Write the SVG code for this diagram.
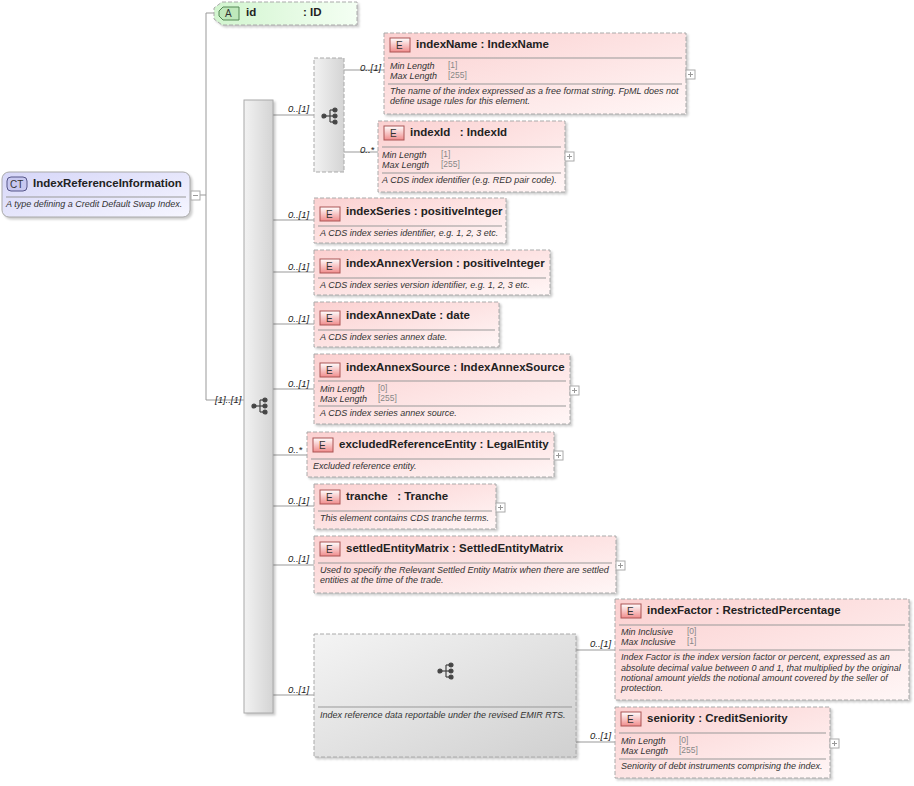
<svg xmlns="http://www.w3.org/2000/svg" width="914" height="786" viewBox="0 0 914 786">
<defs>
<linearGradient id="gE" x1="0" y1="0" x2="1" y2="1"><stop offset="0" stop-color="#fbd0d0"/><stop offset="1" stop-color="#fff6f6"/></linearGradient>
<linearGradient id="gA" x1="0" y1="0" x2="1" y2="0"><stop offset="0" stop-color="#d2f5cf"/><stop offset="1" stop-color="#f4fff3"/></linearGradient>
<linearGradient id="gCT" x1="0" y1="0" x2="1" y2="1"><stop offset="0" stop-color="#d6d6f8"/><stop offset="1" stop-color="#f6f6ff"/></linearGradient>
<linearGradient id="gS" x1="0" y1="0" x2="1" y2="0"><stop offset="0" stop-color="#f2f2f2"/><stop offset="1" stop-color="#d4d4d4"/></linearGradient>
<linearGradient id="gG" x1="0" y1="0" x2="1" y2="1"><stop offset="0" stop-color="#f4f4f4"/><stop offset="1" stop-color="#d0d0d0"/></linearGradient>
<linearGradient id="gB" x1="0" y1="0" x2="0" y2="1"><stop offset="0" stop-color="#fff"/><stop offset="1" stop-color="#f08c8c"/></linearGradient>
<g id="seqIcon" fill="#444" stroke="#444" stroke-width="1.2">
<circle cx="-6" cy="0" r="2"/><line x1="-6" y1="0" x2="0" y2="0"/><line x1="0" y1="-6" x2="0" y2="6"/><line x1="0" y1="-6" x2="5" y2="-6"/><line x1="0" y1="0" x2="5" y2="0"/><line x1="0" y1="6" x2="5" y2="6"/><circle cx="5" cy="-6" r="2"/><circle cx="5" cy="0" r="2"/><circle cx="5" cy="6" r="2"/>
</g>
<g id="plus"><rect x="0" y="0" width="9" height="9" fill="#fff" stroke="#aaa"/><path d="M2 4.5H7M4.5 2V7" stroke="#999"/></g>
</defs>
<style>
text{font-family:"Liberation Sans",Arial,sans-serif}
.t{font-size:11.5px;font-weight:bold;fill:#222}
.d{font-size:9px;font-style:italic;fill:#333}
.v{font-size:8.5px;fill:#888}
.c{font-size:9.5px;font-style:italic;fill:#222}
.box{fill:url(#gE);stroke:#aaa;stroke-dasharray:4 2;filter:drop-shadow(2px 2px 1px rgba(0,0,0,0.2))}
.sep{stroke:#999;stroke-width:1}
.ln{stroke:#999;fill:none}
.badge{fill:url(#gB);stroke:#a55}
.bt{font-size:10px;fill:#333}
</style>

<g id="connectors">
<path class="ln" d="M200 195H206M206 13V400M206 13H216M206 400H244"/>
<path class="ln" d="M273 115H314M344 70H384M344 152H378"/>
<path class="ln" d="M273 220H314M273 272H314M273 324H314M273 389H314M273 455H307M273 506H314M273 565H314M273 695H314"/>
<path class="ln" d="M576 650H615M576 742H615"/>
<text class="c" x="215" y="403">[1]..[1]</text>
<text class="c" x="288" y="112">0..[1]</text>
<text class="c" x="360" y="71">0..[1]</text>
<text class="c" x="360" y="153">0..*</text>
<text class="c" x="288" y="218">0..[1]</text>
<text class="c" x="288" y="270">0..[1]</text>
<text class="c" x="288" y="322">0..[1]</text>
<text class="c" x="288" y="387">0..[1]</text>
<text class="c" x="288" y="453">0..*</text>
<text class="c" x="288" y="504">0..[1]</text>
<text class="c" x="288" y="562">0..[1]</text>
<text class="c" x="288" y="693">0..[1]</text>
<text class="c" x="590" y="647">0..[1]</text>
<text class="c" x="590" y="739">0..[1]</text>
</g>

<g id="ct">
<rect x="2" y="172" width="188" height="45" rx="7" fill="url(#gCT)" stroke="#aaa" style="filter:drop-shadow(2px 2px 1px rgba(0,0,0,0.2))"/>
<rect x="7" y="177" width="20" height="14" rx="4" fill="#c8c8f0" stroke="#558"/>
<text class="bt" x="10" y="188">CT</text>
<text class="t" x="33" y="187">IndexReferenceInformation</text>
<line class="sep" x1="6" y1="197" x2="186" y2="197"/>
<text class="d" x="6" y="207">A type defining a Credit Default Swap Index.</text>
<rect x="191" y="191" width="9" height="9" fill="#fff" stroke="#aaa"/><path d="M193 195.5H198" stroke="#999"/>
</g>

<g id="attr-id">
<path d="M222 2H357V25H222L214 19V8Z" fill="url(#gA)" stroke="#aaa" stroke-dasharray="4 2" style="filter:drop-shadow(2px 2px 1px rgba(0,0,0,0.2))"/>
<path d="M223 7H239V20H223L219 16V11Z" fill="#bfe8bb" stroke="#585"/>
<text class="bt" x="225" y="17">A</text>
<text class="t" x="246" y="16">id</text>
<text class="t" x="303" y="16">: ID</text>
</g>

<g id="seq-main">
<rect x="244" y="100" width="29" height="613" fill="url(#gS)" stroke="#aaa" style="filter:drop-shadow(2px 2px 1px rgba(0,0,0,0.2))"/>
<use href="#seqIcon" x="260" y="406"/>
</g>

<g id="choice">
<rect x="314" y="58" width="30" height="114" fill="url(#gS)" stroke="#aaa" stroke-dasharray="4 2"/>
<use href="#seqIcon" x="330" y="116"/>
</g>

<g id="indexName">
<rect class="box" x="384" y="33" width="302" height="81"/>
<rect class="badge" x="390" y="38" width="20" height="14"/><text class="bt" x="396" y="49">E</text>
<text class="t" x="416" y="48">indexName : IndexName</text>
<line class="sep" x1="388" y1="58" x2="682" y2="58"/>
<text class="d" x="390" y="69">Min Length</text><text class="v" x="448" y="68">[1]</text>
<text class="d" x="390" y="79">Max Length</text><text class="v" x="448" y="78">[255]</text>
<line class="sep" x1="388" y1="84" x2="682" y2="84"/>
<text class="d" x="390" y="94">The name of the index expressed as a free format string. FpML does not</text>
<text class="d" x="390" y="104">define usage rules for this element.</text>
<use href="#plus" x="686" y="70"/>
</g>

<g id="indexId">
<rect class="box" x="378" y="121" width="187" height="71"/>
<rect class="badge" x="384" y="126" width="20" height="14"/><text class="bt" x="390" y="137">E</text>
<text class="t" x="410" y="136" xml:space="preserve">indexId   : IndexId</text>
<line class="sep" x1="382" y1="147" x2="561" y2="147"/>
<text class="d" x="382" y="158">Min Length</text><text class="v" x="441" y="157">[1]</text>
<text class="d" x="382" y="168">Max Length</text><text class="v" x="441" y="167">[255]</text>
<line class="sep" x1="382" y1="173" x2="561" y2="173"/>
<text class="d" x="382" y="183">A CDS index identifier (e.g. RED pair code).</text>
<use href="#plus" x="565" y="152"/>
</g>

<g id="indexSeries">
<rect class="box" x="314" y="198" width="192" height="45"/>
<rect class="badge" x="320" y="207" width="20" height="14"/><text class="bt" x="326" y="218">E</text>
<text class="t" x="346" y="215">indexSeries : positiveInteger</text>
<line class="sep" x1="318" y1="226" x2="502" y2="226"/>
<text class="d" x="320" y="236">A CDS index series identifier, e.g. 1, 2, 3 etc.</text>
</g>

<g id="indexAnnexVersion">
<rect class="box" x="314" y="250" width="236" height="45"/>
<rect class="badge" x="320" y="259" width="20" height="14"/><text class="bt" x="326" y="270">E</text>
<text class="t" x="346" y="267">indexAnnexVersion : positiveInteger</text>
<line class="sep" x1="318" y1="278" x2="546" y2="278"/>
<text class="d" x="320" y="288">A CDS index series version identifier, e.g. 1, 2, 3 etc.</text>
</g>

<g id="indexAnnexDate">
<rect class="box" x="314" y="302" width="185" height="45"/>
<rect class="badge" x="320" y="311" width="20" height="14"/><text class="bt" x="326" y="322">E</text>
<text class="t" x="346" y="319">indexAnnexDate : date</text>
<line class="sep" x1="318" y1="330" x2="495" y2="330"/>
<text class="d" x="320" y="340">A CDS index series annex date.</text>
</g>

<g id="indexAnnexSource">
<rect class="box" x="314" y="354" width="256" height="70"/>
<rect class="badge" x="320" y="363" width="20" height="14"/><text class="bt" x="326" y="374">E</text>
<text class="t" x="346" y="371">indexAnnexSource : IndexAnnexSource</text>
<line class="sep" x1="318" y1="381" x2="566" y2="381"/>
<text class="d" x="320" y="392">Min Length</text><text class="v" x="378" y="391">[0]</text>
<text class="d" x="320" y="402">Max Length</text><text class="v" x="378" y="401">[255]</text>
<line class="sep" x1="318" y1="406" x2="566" y2="406"/>
<text class="d" x="320" y="416">A CDS index series annex source.</text>
<use href="#plus" x="570" y="386"/>
</g>

<g id="excludedReferenceEntity">
<rect class="box" x="307" y="432" width="247" height="45"/>
<rect class="badge" x="313" y="438" width="20" height="14"/><text class="bt" x="319" y="449">E</text>
<text class="t" x="339" y="448">excludedReferenceEntity : LegalEntity</text>
<line class="sep" x1="311" y1="459" x2="550" y2="459"/>
<text class="d" x="313" y="469">Excluded reference entity.</text>
<use href="#plus" x="554" y="451"/>
</g>

<g id="tranche">
<rect class="box" x="314" y="484" width="182" height="45"/>
<rect class="badge" x="320" y="490" width="20" height="14"/><text class="bt" x="326" y="501">E</text>
<text class="t" x="346" y="500" xml:space="preserve">tranche   : Tranche</text>
<line class="sep" x1="318" y1="511" x2="492" y2="511"/>
<text class="d" x="320" y="521">This element contains CDS tranche terms.</text>
<use href="#plus" x="496" y="503"/>
</g>

<g id="settledEntityMatrix">
<rect class="box" x="314" y="536" width="302" height="57"/>
<rect class="badge" x="320" y="542" width="20" height="14"/><text class="bt" x="326" y="553">E</text>
<text class="t" x="346" y="552">settledEntityMatrix : SettledEntityMatrix</text>
<line class="sep" x1="318" y1="563" x2="612" y2="563"/>
<text class="d" x="320" y="573">Used to specify the Relevant Settled Entity Matrix when there are settled</text>
<text class="d" x="320" y="583">entities at the time of the trade.</text>
<use href="#plus" x="616" y="561"/>
</g>

<g id="seq-emir">
<rect x="314" y="634" width="262" height="123" fill="url(#gG)" stroke="#aaa" stroke-dasharray="4 2" style="filter:drop-shadow(2px 2px 1px rgba(0,0,0,0.2))"/>
<use href="#seqIcon" x="446" y="671"/>
<line class="sep" x1="318" y1="707" x2="572" y2="707"/>
<text class="d" x="320" y="718">Index reference data reportable under the revised EMIR RTS.</text>
</g>

<g id="indexFactor">
<rect class="box" x="615" y="599" width="294" height="101"/>
<rect class="badge" x="621" y="604" width="20" height="14"/><text class="bt" x="627" y="615">E</text>
<text class="t" x="647" y="614">indexFactor : RestrictedPercentage</text>
<line class="sep" x1="619" y1="625" x2="905" y2="625"/>
<text class="d" x="621" y="635">Min Inclusive</text><text class="v" x="687" y="634">[0]</text>
<text class="d" x="621" y="645">Max Inclusive</text><text class="v" x="687" y="644">[1]</text>
<line class="sep" x1="619" y1="650" x2="905" y2="650"/>
<text class="d" x="621" y="660">Index Factor is the index version factor or percent, expressed as an</text>
<text class="d" x="621" y="671">absolute decimal value between 0 and 1, that multiplied by the original</text>
<text class="d" x="621" y="681">notional amount yields the notional amount covered by the seller of</text>
<text class="d" x="621" y="691">protection.</text>
</g>

<g id="seniority">
<rect class="box" x="615" y="707" width="215" height="71"/>
<rect class="badge" x="621" y="712" width="20" height="14"/><text class="bt" x="627" y="723">E</text>
<text class="t" x="647" y="722">seniority : CreditSeniority</text>
<line class="sep" x1="619" y1="733" x2="826" y2="733"/>
<text class="d" x="621" y="744">Min Length</text><text class="v" x="679" y="743">[0]</text>
<text class="d" x="621" y="754">Max Length</text><text class="v" x="679" y="753">[255]</text>
<line class="sep" x1="619" y1="759" x2="826" y2="759"/>
<text class="d" x="621" y="769">Seniority of debt instruments comprising the index.</text>
<use href="#plus" x="830" y="739"/>
</g>
</svg>
